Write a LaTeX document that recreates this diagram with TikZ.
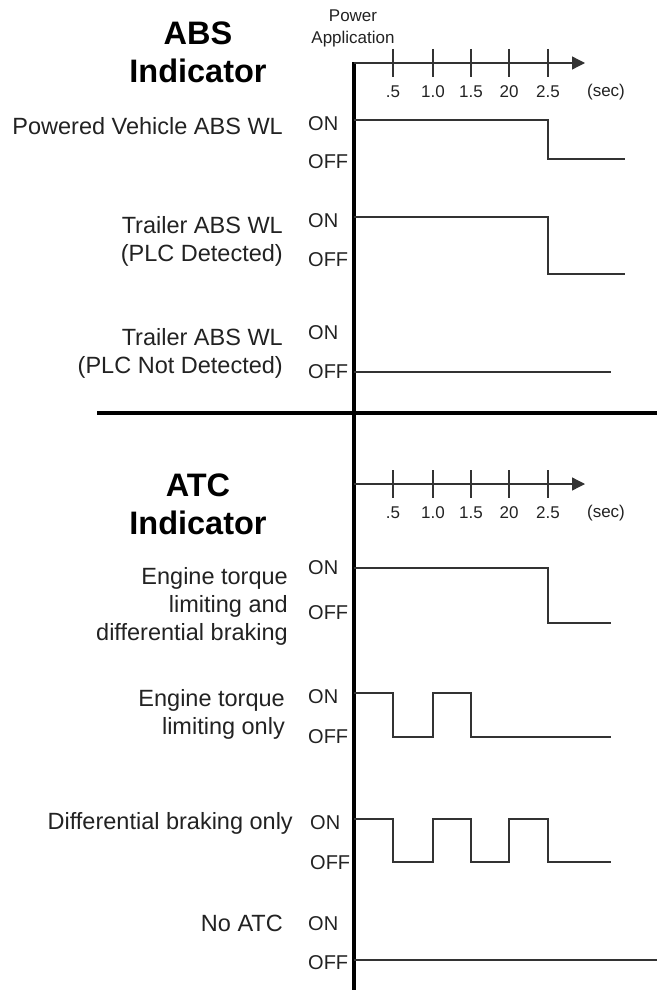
\documentclass[tikz,border=0pt]{standalone}
\usepackage{fontspec}
\setmainfont{Liberation Sans}
\usetikzlibrary{arrows.meta,positioning}
\definecolor{wireline}{HTML}{333333}
\definecolor{labeltext}{HTML}{222222}

\begin{document}
\begin{tikzpicture}[
  x=1pt, y=-1pt,
  font=\fontsize{23.5}{28}\selectfont,
  >={Triangle[length=13pt,width=13pt]},
  rowlabel/.style={
    anchor=east,
    align=right,
    text=labeltext,
    inner sep=0pt
  },
  statelabel/.style={
    anchor=west,
    font=\fontsize{20}{24}\selectfont,
    text=labeltext,
    inner sep=0pt
  },
  titlelabel/.style={
    font=\fontsize{32.5}{38}\selectfont\bfseries,
    align=center,
    inner sep=0pt
  },
  ticklabel/.style={
    font=\fontsize{17}{20}\selectfont,
    text=labeltext,
    inner sep=0pt
  },
  signal/.style={draw=wireline, line width=1.3pt},
  timeaxis/.style={->, draw=wireline, line width=1.3pt},
  divider/.style={draw=black, line width=3.8pt}
]
  \useasboundingbox (0,0) rectangle (657,990);

  % Titles
  \node[titlelabel] (abstitle) at (198,52) {ABS\\Indicator};
  \node[titlelabel] (atctitle) at (198,504) {ATC\\Indicator};
  \node[ticklabel, align=center, font=\fontsize{17}{22}\selectfont] (powerapp) at (353,28) {Power\\Application};

  % Dividing lines
  \coordinate (vtop) at (354,62);
  \coordinate (vbot) at (354,990);
  \coordinate (hleft) at (97,413);
  \coordinate (hright) at (657,413);
  \draw[divider] (vtop) -- (vbot);
  \draw[divider] (hleft) -- (hright);

  % Time axes
  \coordinate (absaxis) at (354,63);
  \coordinate (atcaxis) at (354,484);
  \draw[timeaxis] (absaxis) -- ++(231,0);
  \draw[timeaxis] (atcaxis) -- ++(231,0);
  \foreach \t/\lbl in {393/.5, 433/1.0, 471/1.5, 509/20, 548/2.5} {
    \draw[signal] (\t,49) -- (\t,77);
    \node[ticklabel] at (\t,92) {\lbl};
    \draw[signal] (\t,470) -- (\t,498);
    \node[ticklabel] at (\t,513) {\lbl};
  }
  \node[ticklabel] (secabs) at (606,92) {(sec)};
  \node[ticklabel] (secatc) at (606,513) {(sec)};

  % ABS rows
  \node[rowlabel] (powered) at (283,126) {Powered Vehicle ABS WL};
  \node[statelabel] (poweredon) at (308,124) {ON};
  \node[statelabel] (poweredoff) at (308,162) {OFF};
  \draw[signal] (354,120) -- (548,120) -- (548,159) -- (625,159);

  \node[rowlabel] (trailerplc) at (283,241) {Trailer ABS WL\\(PLC Detected)};
  \node[statelabel] (trailerplcon) at (308,221) {ON};
  \node[statelabel] (trailerplcoff) at (308,260) {OFF};
  \draw[signal] (354,217) -- (548,217) -- (548,274) -- (625,274);

  \node[rowlabel] (trailernoplc) at (283,353) {Trailer ABS WL\\(PLC Not Detected)};
  \node[statelabel] (trailernoplcon) at (308,333) {ON};
  \node[statelabel] (trailernoplcoff) at (308,372) {OFF};
  \draw[signal] (354,372) -- (611,372);

  % ATC rows
  \node[rowlabel] (torquediff) at (288,606) {Engine torque\\limiting and\\differential braking};
  \node[statelabel] (torquediffon) at (308,568) {ON};
  \node[statelabel] (torquediffoff) at (308,613) {OFF};
  \draw[signal] (354,568) -- (548,568) -- (548,623) -- (611,623);

  \node[rowlabel] (torqueonly) at (285,714) {Engine torque\\limiting only};
  \node[statelabel] (torqueonlyon) at (308,697) {ON};
  \node[statelabel] (torqueonlyoff) at (308,737) {OFF};
  \draw[signal] (354,693) -- (393,693) -- (393,737) -- (433,737) -- (433,693)
    -- (471,693) -- (471,737) -- (611,737);

  \node[rowlabel] (diffonly) at (293,823) {Differential braking only};
  \node[statelabel] (diffonlyon) at (310,823) {ON};
  \node[statelabel] (diffonlyoff) at (310,863) {OFF};
  \draw[signal] (354,819) -- (393,819) -- (393,862) -- (433,862) -- (433,819)
    -- (471,819) -- (471,862) -- (509,862) -- (509,819) -- (548,819)
    -- (548,862) -- (611,862);

  \node[rowlabel] (noatc) at (283,923) {No ATC};
  \node[statelabel] (noatcon) at (308,924) {ON};
  \node[statelabel] (noatcoff) at (308,963) {OFF};
  \draw[signal] (354,960) -- (657,960);

\end{tikzpicture}
\end{document}
